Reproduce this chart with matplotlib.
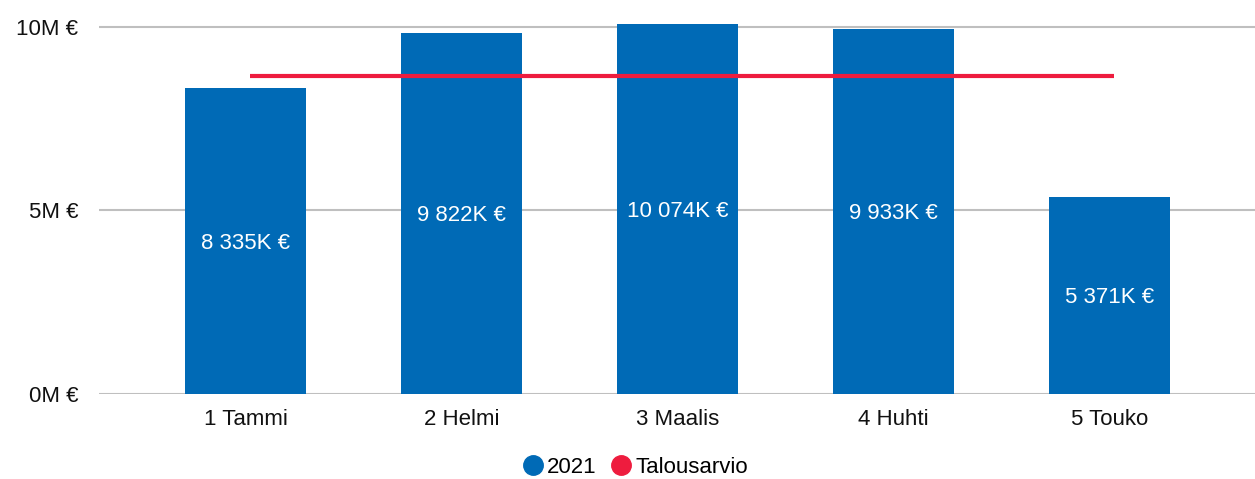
import matplotlib.pyplot as plt
from matplotlib.lines import Line2D

plt.rcParams['font.family'] = ['Liberation Sans', 'DejaVu Sans']

months = ["1 Tammi", "2 Helmi", "3 Maalis", "4 Huhti", "5 Touko"]
actual_2021 = [8335, 9822, 10074, 9933, 5371]  # thousand euros
budget = [8660, 8660, 8660, 8660, 8660]
bar_labels = ["8 335K €", "9 822K €", "10 074K €", "9 933K €", "5 371K €"]

blue = "#006AB6"
red = "#EE1C3E"

fig = plt.figure(figsize=(12.55, 4.79), dpi=100)
ax = fig.add_axes([0.0789, 0.1775, 0.9211, 0.7808])

x = range(len(months))
bars = ax.bar(x, actual_2021, width=0.56, color=blue, zorder=2)
ax.plot([i + 0.02 for i in x], budget, color=red, linewidth=3, zorder=3, solid_capstyle='butt')

for b, lab in zip(bars, bar_labels):
    ax.text(b.get_x() + b.get_width() / 2, b.get_height() / 2 - 60, lab,
            ha='center', va='center', color='white', fontsize=16, zorder=4)

ax.set_xlim(-0.678, 4.674)
ax.set_ylim(0, 10190)
ax.set_yticks([0, 5000, 10000])
ax.set_yticklabels(["0M €", "5M €", "10M €"])
ax.set_xticks(list(x))
ax.set_xticklabels(months)
ax.tick_params(axis='both', length=0, labelsize=16, colors='#111111')
ax.tick_params(axis='y', pad=15)
ax.tick_params(axis='x', pad=11)
ax.grid(axis='y', color='#BFBFBF', linewidth=1.5, zorder=0)
for s in ax.spines.values():
    s.set_visible(False)

handles = [Line2D([], [], marker='o', linestyle='none', markersize=14, color=blue),
           Line2D([], [], marker='o', linestyle='none', markersize=14, color=red)]
fig.legend(handles, ["2021", "Talousarvio"], loc='center', bbox_to_anchor=(0.506, 0.025),
           ncol=2, frameon=False, fontsize=16, handletextpad=0.15, columnspacing=0.6,
           handlelength=1.0)

fig.savefig("out.png", dpi=100)
